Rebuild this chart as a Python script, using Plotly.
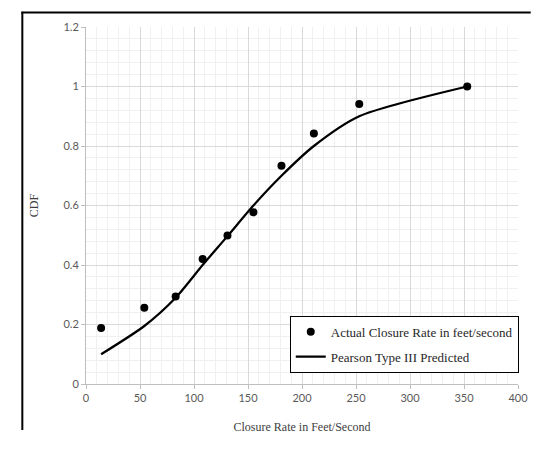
import plotly.graph_objects as go

closure_rate = [14, 54, 83, 108, 131, 155, 181, 211, 253, 353]
actual_cdf = [0.188, 0.256, 0.294, 0.42, 0.499, 0.577, 0.734, 0.842, 0.941, 1.0]
predicted_cdf = [0.10, 0.195, 0.29, 0.40, 0.497, 0.60, 0.70, 0.80, 0.90, 1.0]

x_ticks = [0, 50, 100, 150, 200, 250, 300, 350, 400]
y_ticks = [0, 0.2, 0.4, 0.6, 0.8, 1, 1.2]
y_tick_labels = ["0", "0.2", "0.4", "0.6", "0.8", "1", "1.2"]

fig = go.Figure()
fig.add_trace(go.Scatter(
    x=closure_rate, y=actual_cdf, mode="markers",
    name="Actual Closure Rate in feet/second",
    marker=dict(color="black", size=8),
    legendgroup="a",
))
fig.add_trace(go.Scatter(
    x=closure_rate, y=predicted_cdf, mode="lines",
    name="Pearson Type III Predicted",
    line=dict(color="black", width=2.25, shape="spline", smoothing=0.7),
    legendgroup="b",
))

tick_font = dict(family="Lato, Open Sans, sans-serif", size=11, color="#595959")
title_font = dict(family="Liberation Serif, Times New Roman, serif", size=12, color="#404040")

W, H = 532, 436
L, R, T = 78, 13, 16
PW = W - L - R
PH = 372
B = H - T - PH


def px_x(p):
    return (p - L) / PW


def px_y(p):
    return (PH + T - p) / PH


fig.update_layout(
    width=W, height=H,
    margin=dict(l=L, r=R, t=T, b=B),
    paper_bgcolor="white", plot_bgcolor="white",
    showlegend=True,
    legend=dict(
        x=px_x(286), y=px_y(317), xanchor="left", yanchor="top",
        bgcolor="white", bordercolor="black", borderwidth=1,
        font=dict(family="Liberation Serif, Times New Roman, serif", size=13, color="#262626"),
        tracegroupgap=5, traceorder="grouped",
    ),
    xaxis=dict(
        range=[0, 400], tickvals=x_ticks, showgrid=True, gridcolor="#d9d9d9", gridwidth=1,
        minor=dict(dtick=10, showgrid=True, gridcolor="#f0f0f0", gridwidth=1),
        showline=True, linecolor="#bfbfbf", linewidth=1,
        ticks="outside", ticklen=4, tickcolor="#bfbfbf",
        tickfont=tick_font, zeroline=False,
        title=dict(text="Closure Rate in Feet/Second", font=title_font, standoff=19),
    ),
    yaxis=dict(
        range=[0, 1.2], tickvals=y_ticks, ticktext=y_tick_labels,
        showgrid=True, gridcolor="#d9d9d9", gridwidth=1,
        minor=dict(dtick=0.04, showgrid=True, gridcolor="#f0f0f0", gridwidth=1),
        showline=True, linecolor="#bfbfbf", linewidth=1,
        ticks="outside", ticklen=4, tickcolor="#bfbfbf",
        tickfont=tick_font, zeroline=False,
        title=dict(text="CDF", font=title_font, standoff=22),
    ),
    shapes=[
        dict(type="line", xref="paper", yref="paper",
             x0=px_x(13), x1=px_x(13), y0=px_y(H), y1=px_y(0),
             line=dict(color="black", width=2), layer="above"),
        dict(type="line", xref="paper", yref="paper",
             x0=px_x(12), x1=px_x(W), y0=px_y(1), y1=px_y(1),
             line=dict(color="black", width=2), layer="above"),
    ],
)

fig.write_html("out.html")
